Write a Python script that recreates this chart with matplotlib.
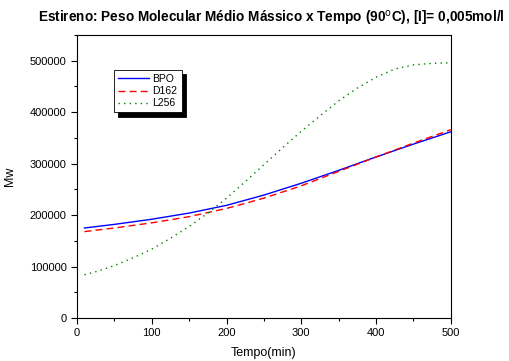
import numpy as np
import matplotlib.pyplot as plt
from matplotlib.ticker import MultipleLocator

plt.rcParams['font.family'] = ['Liberation Sans', 'DejaVu Sans']

# dados
t_bpo = [10, 50, 100, 150, 200, 250, 300, 350, 400, 450, 500]
mw_bpo = [175000, 182000, 192000, 204000, 219000, 239000, 262000, 287000, 313000, 338000, 362000]

t_d162 = [10, 50, 100, 150, 200, 250, 300, 350, 400, 450, 500]
mw_d162 = [168000, 175000, 185000, 197000, 213000, 233000, 257000, 285000, 313000, 340000, 366000]

t_l256 = [10, 25, 50, 75, 100, 125, 150, 175, 200, 225, 250, 275, 300,
          325, 350, 375, 400, 425, 450, 475, 500]
mw_l256 = [84000, 90000, 102000, 117000, 134000, 155000, 178000, 204000, 233000,
           265000, 298000, 331000, 363000, 393000, 422000, 447000, 468000,
           484000, 492000, 495000, 496000]

fig = plt.figure(figsize=(5.1, 3.61), dpi=100)
ax = fig.add_axes([0.151, 0.119, 0.733, 0.784])

ax.plot(t_bpo, mw_bpo, color='blue', lw=1.0, label='BPO')
ax.plot(t_d162, mw_d162, color='red', lw=1.0, ls=(0, (5, 3)), label='D162')
ax.plot(t_l256, mw_l256, color='green', lw=1.0, ls=(0, (1, 3)), label='L256')

ax.set_xlim(0, 500)
ax.set_ylim(0, 550000)
ax.xaxis.set_major_locator(MultipleLocator(100))
ax.xaxis.set_minor_locator(MultipleLocator(50))
ax.yaxis.set_major_locator(MultipleLocator(100000))
ax.yaxis.set_minor_locator(MultipleLocator(50000))
ax.tick_params(which='both', direction='out', labelsize=8, width=0.8)
ax.tick_params(which='major', length=4)
ax.tick_params(which='minor', length=2.5)
for s in ax.spines.values():
    s.set_linewidth(0.8)

ax.set_xlabel('Tempo(min)', fontsize=9, labelpad=6)
ax.set_ylabel('Mw', fontsize=9, labelpad=10)

fig.text(0.533, 0.95, 'Estireno: Peso Molecular Médio Mássico x Tempo (90$^{\\rm o}$C), [I]= 0,005mol/l',
         ha='center', va='center', fontsize=9.8, fontweight='bold')

leg = ax.legend(loc='upper left', bbox_to_anchor=(0.085, 0.895), fontsize=7.5,
                frameon=True, fancybox=False, edgecolor='black',
                shadow={'color': 'black', 'alpha': 1, 'ox': 3, 'oy': -3},
                handlelength=3, borderpad=0.4, labelspacing=0.2, handletextpad=0.3)
leg.get_frame().set_linewidth(0.6)

fig.savefig('out.png', dpi=100)
